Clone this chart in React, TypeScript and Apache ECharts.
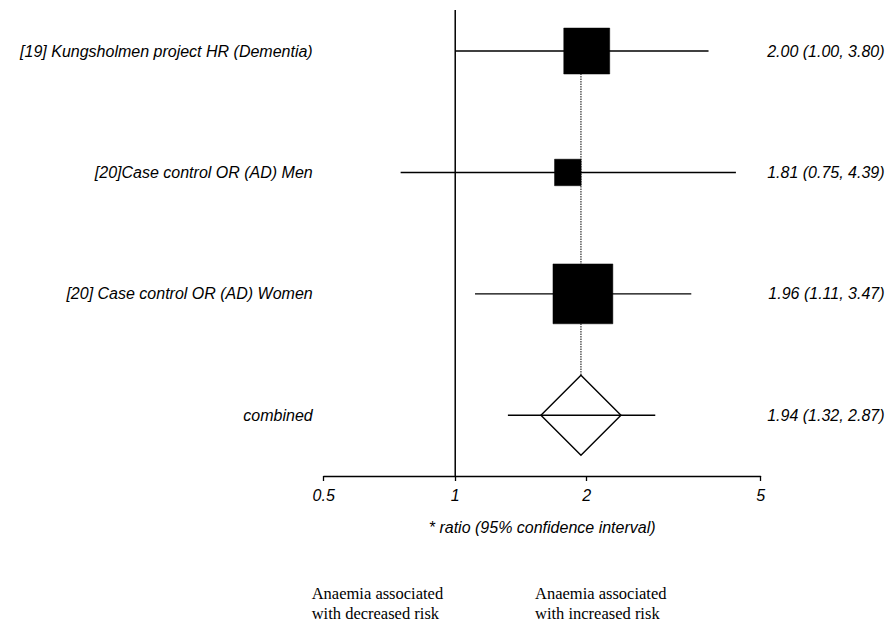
import React, { useEffect, useRef } from "react";
import * as echarts from "echarts";

const studies = [
  "[19] Kungsholmen project HR (Dementia)",
  "[20]Case control OR (AD) Men",
  "[20] Case control OR (AD) Women",
  "combined",
];
const estimates = [2.0, 1.81, 1.96, 1.94];
const lowers = [1.0, 0.75, 1.11, 1.32];
const uppers = [3.8, 4.39, 3.47, 2.87];
const weights = [33, 11, 56, 0]; // percent weight (box area)
const isSummary = [0, 0, 0, 1];
const xTicks = [0.5, 1, 2, 5];
const rowValues = [1, 2, 3, 4];
const leftNote = "Anaemia associated\nwith decreased risk";
const rightNote = "Anaemia associated\nwith increased risk";
const axisTitle = "* ratio (95% confidence interval)";

const FONT = "'Liberation Sans', Arial, Helvetica, sans-serif";
const SERIF = "'Liberation Serif', 'Times New Roman', serif";
const MAX_BOX = 80;
const Y_MIN = 0.662;
const Y_MAX = 4.5;

const fmt = (v: number) => v.toFixed(2);

export default function App() {
  const ref = useRef<HTMLDivElement>(null);
  useEffect(() => {
    if (!ref.current) return;
    const chart = echarts.init(ref.current, null, { renderer: "svg" });
    const data = studies.map((_, i) => [
      rowValues[i],
      lowers[i],
      estimates[i],
      uppers[i],
      weights[i],
      isSummary[i],
    ]);
    const yAxisBase = {
      type: "value",
      inverse: true,
      min: Y_MIN,
      max: Y_MAX,
      axisLine: { show: false },
      axisTick: { show: false },
      splitLine: { show: false },
    };
    chart.setOption({
      animation: false,
      backgroundColor: "#ffffff",
      grid: { left: 323.7, right: 131.4, top: 10, bottom: 147 },
      xAxis: {
        type: "log",
        logBase: 2,
        min: 0.5,
        max: 5,
        axisLine: { show: true, lineStyle: { color: "#000", width: 1.3 } },
        axisTick: {
          show: true,
          length: 5,
          customValues: xTicks,
          lineStyle: { color: "#000", width: 1.3 },
        },
        axisLabel: {
          customValues: xTicks,
          formatter: (v: number) => String(v),
          color: "#000",
          fontFamily: FONT,
          fontStyle: "italic",
          fontSize: 16,
          margin: 11,
        },
        minorTick: { show: false },
        splitLine: { show: false },
        name: axisTitle,
        nameLocation: "middle",
        nameGap: 43,
        nameTextStyle: {
          color: "#000",
          fontFamily: FONT,
          fontStyle: "italic",
          fontSize: 16,
        },
      },
      yAxis: [
        {
          ...yAxisBase,
          position: "left",
          axisLabel: {
            customValues: rowValues,
            formatter: (v: number) => studies[Math.round(v) - 1] ?? "",
            color: "#000",
            fontFamily: FONT,
            fontStyle: "italic",
            fontSize: 16,
            margin: 11,
          },
        },
        {
          ...yAxisBase,
          position: "right",
          axisLabel: {
            customValues: rowValues,
            formatter: (v: number) => {
              const i = Math.round(v) - 1;
              if (i < 0 || i >= studies.length) return "";
              return `${fmt(estimates[i])} (${fmt(lowers[i])}, ${fmt(uppers[i])})`;
            },
            color: "#000",
            fontFamily: FONT,
            fontStyle: "italic",
            fontSize: 16,
            align: "right",
            margin: 124,
          },
        },
      ],
      graphic: [
        {
          type: "text",
          left: 311.7,
          top: 583,
          style: {
            text: leftNote,
            font: `16.5px ${SERIF}`,
            lineHeight: 20,
            fill: "#000",
          },
        },
        {
          type: "text",
          left: 535,
          top: 583,
          style: {
            text: rightNote,
            font: `16.5px ${SERIF}`,
            lineHeight: 20,
            fill: "#000",
          },
        },
      ],
      series: [
        {
          type: "line",
          z: 1,
          data: [
            [1, Y_MIN],
            [1, Y_MAX],
          ],
          symbol: "none",
          silent: true,
          lineStyle: { color: "#000", width: 1.5 },
        },
        {
          type: "line",
          z: 1,
          data: [
            [estimates[3], rowValues[0]],
            [estimates[3], rowValues[3]],
          ],
          symbol: "none",
          silent: true,
          lineStyle: { color: "#000", width: 1, type: [1.5, 1] },
        },
        {
          type: "custom",
          z: 5,
          silent: true,
          encode: { x: [1, 2, 3], y: 0 },
          data,
          renderItem: (params: any, api: any) => {
            const row = api.value(0);
            const lo = api.value(1);
            const est = api.value(2);
            const hi = api.value(3);
            const w = api.value(4);
            const summ = api.value(5);
            const pLo = api.coord([lo, row]);
            const pHi = api.coord([hi, row]);
            const pE = api.coord([est, row]);
            const ciLine = {
              type: "line",
              shape: { x1: pLo[0], y1: pLo[1], x2: pHi[0], y2: pHi[1] },
              style: { stroke: "#000", lineWidth: 1.4 },
            };
            if (summ) {
              const h = MAX_BOX / 2;
              return {
                type: "group",
                children: [
                  {
                    type: "polygon",
                    shape: {
                      points: [
                        [pE[0] - h, pE[1]],
                        [pE[0], pE[1] - h],
                        [pE[0] + h, pE[1]],
                        [pE[0], pE[1] + h],
                      ],
                    },
                    style: { fill: "#fff", stroke: "#000", lineWidth: 1.4 },
                  },
                  ciLine,
                ],
              };
            }
            const s = MAX_BOX * Math.sqrt(w / 100);
            return {
              type: "group",
              children: [
                ciLine,
                {
                  type: "rect",
                  shape: { x: pE[0] - s / 2, y: pE[1] - s / 2, width: s, height: s },
                  style: { fill: "#000", stroke: "#000", lineWidth: 0.5 },
                },
              ],
            };
          },
        },
      ],
    });
    return () => chart.dispose();
  }, []);
  return (
    <div
      ref={ref}
      style={{ position: "fixed", left: 0, top: 0, width: 892, height: 623 }}
    />
  );
}
